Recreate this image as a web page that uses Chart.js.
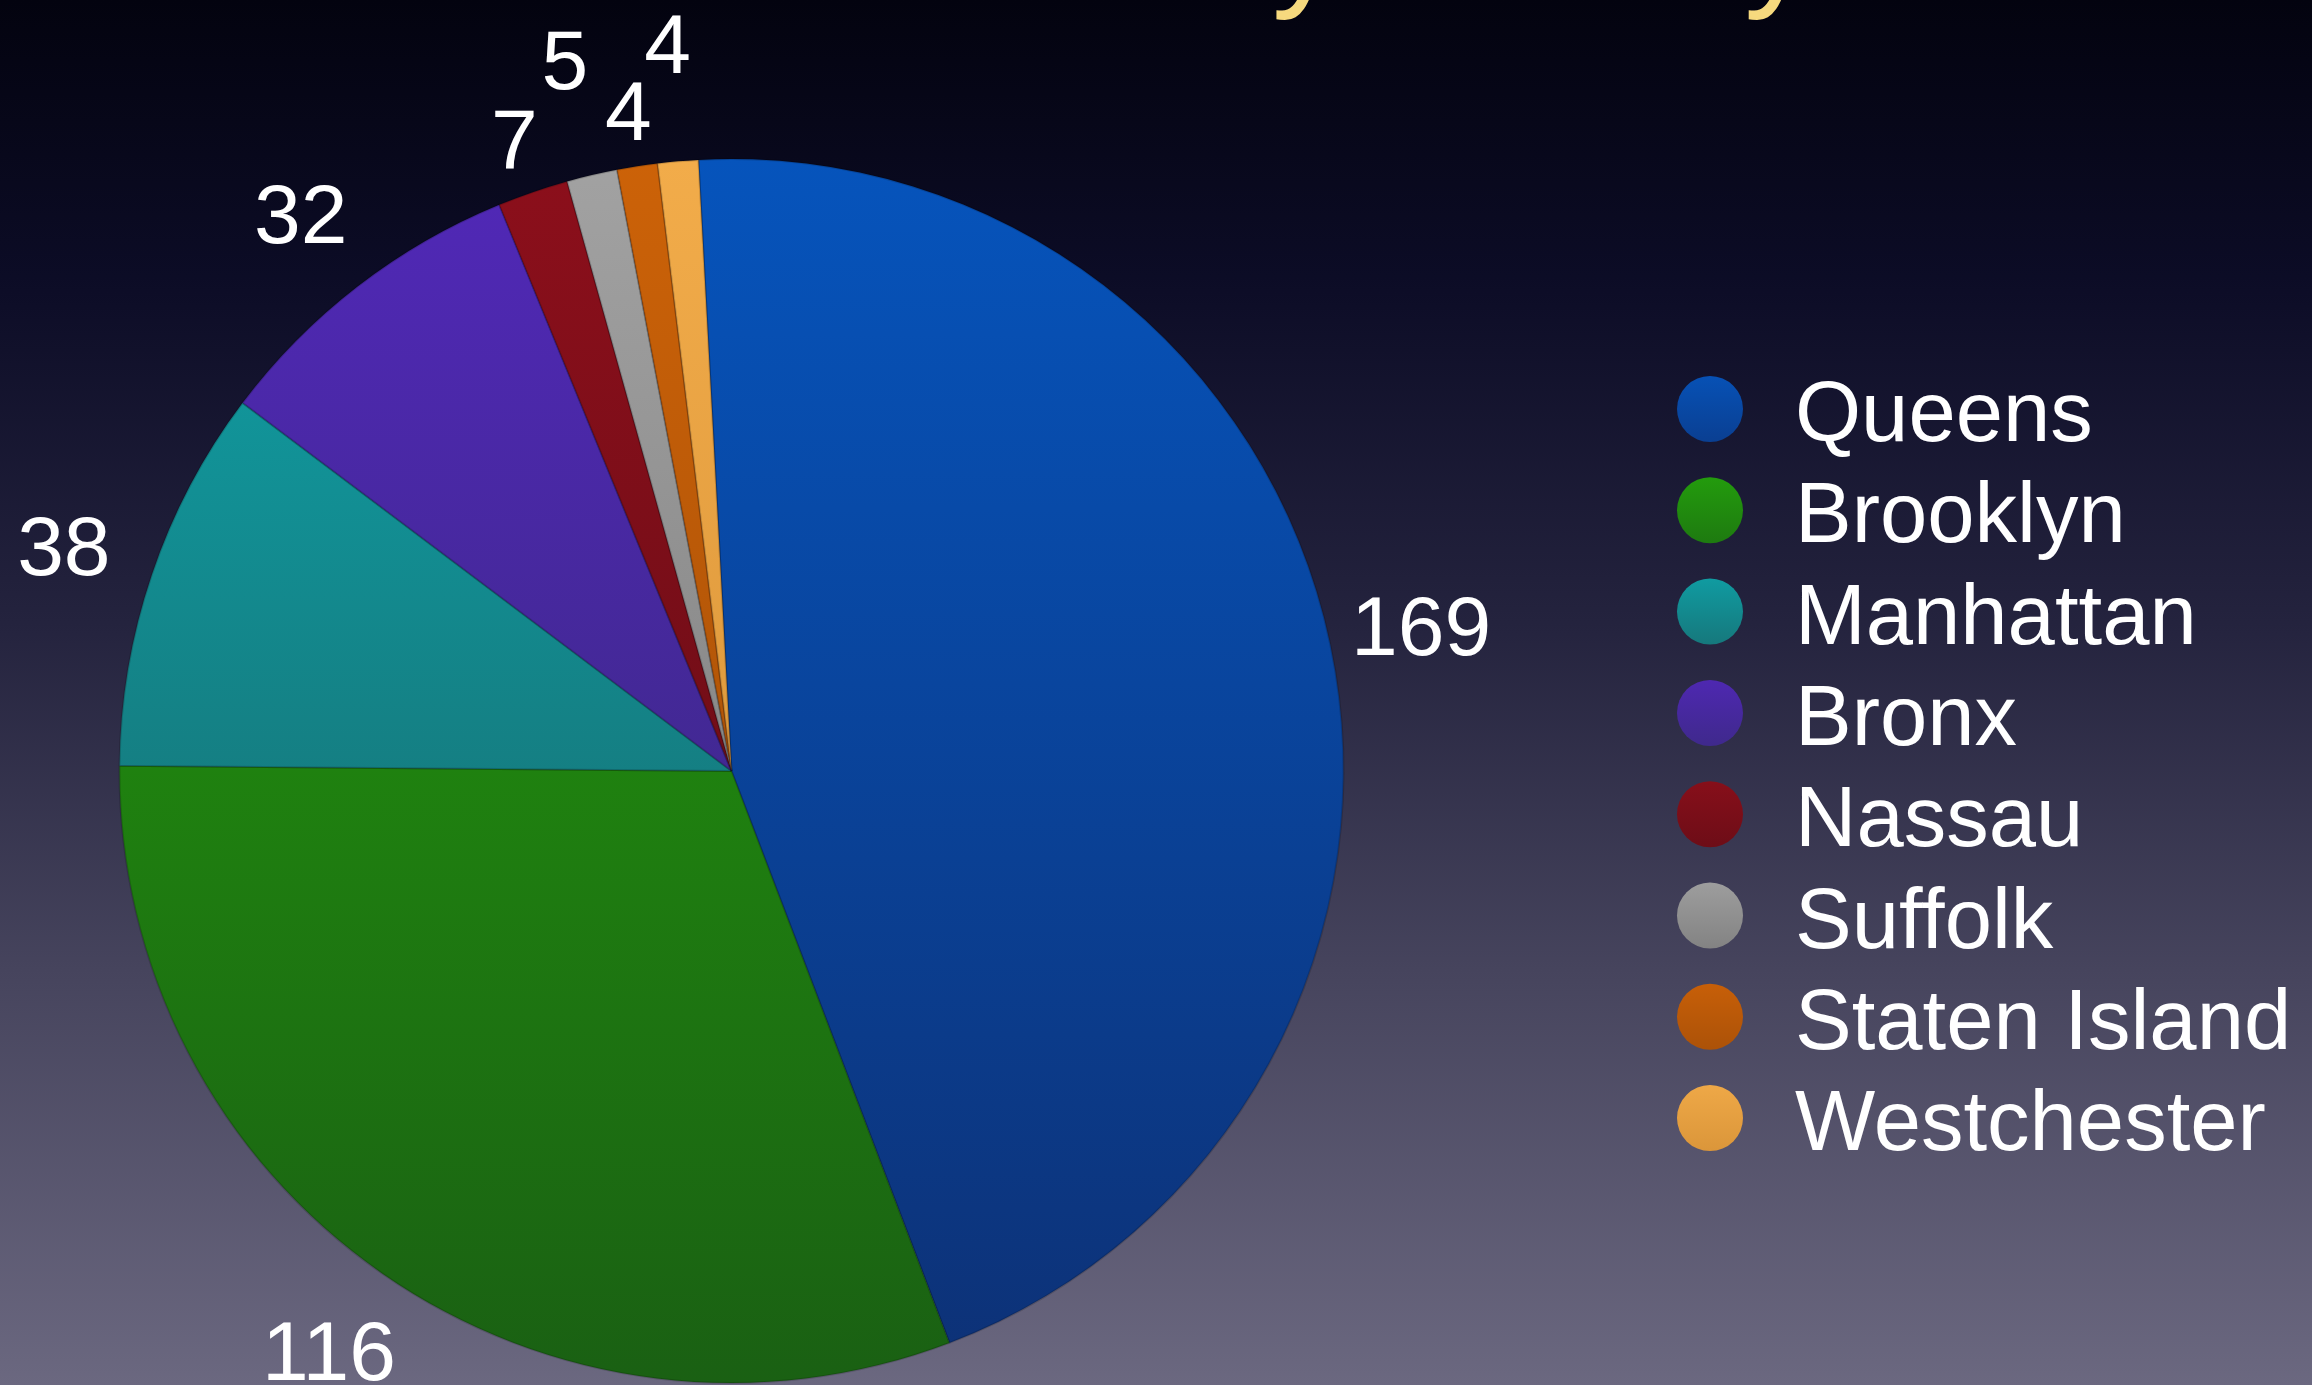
<!DOCTYPE html>
<html>
<head>
<meta charset="utf-8">
<title>Cases by County</title>
<script src="https://cdn.jsdelivr.net/npm/chart.js@4.4.1/dist/chart.umd.min.js"></script>
<style>
    html, body { margin: 0; padding: 0; background: #05051a; overflow: hidden; }
    canvas { display: block; }
</style>
</head>
<body>
<canvas id="chart" width="2312" height="1385"></canvas>
<script>
// Data
const counties = ['Queens', 'Brooklyn', 'Manhattan', 'Bronx', 'Nassau', 'Suffolk', 'Staten Island', 'Westchester'];
const cases = [169, 116, 38, 32, 7, 5, 4, 4];
const chartTitle = 'Cases by County';

// Slice colours, light at the top of the pie and darker at the bottom
const colorsTop = ['#0654bc', '#24a20c', '#0fa2a8', '#5128b8', '#8c0f1b', '#a2a2a2', '#cc6208', '#f2ac4a'];
const colorsBottom = ['#0d3176', '#1a6013', '#1a5c5e', '#33296e', '#580c14', '#6e6e6e', '#964808', '#cc8830'];

const FONT = '"Liberation Sans", Arial, Helvetica, sans-serif';

// Helpers
function mix(a, b, t) {
    const pa = [1, 3, 5].map(i => parseInt(a.substr(i, 2), 16));
    const pb = [1, 3, 5].map(i => parseInt(b.substr(i, 2), 16));
    const c = pa.map((v, i) => Math.round(v + (pb[i] - v) * t));
    return 'rgb(' + c.join(',') + ')';
}

function sliceColor(context) {
    const i = context.dataIndex;
    const area = context.chart.chartArea;
    if (!area) return colorsTop[i];
    const g = context.chart.ctx.createLinearGradient(0, area.top, 0, area.bottom);
    g.addColorStop(0, colorsTop[i]);
    g.addColorStop(1, colorsBottom[i]);
    return g;
}

// Plugins
const backgroundPlugin = {
    id: 'background',
    beforeDraw(chart) {
        const ctx = chart.ctx;
        const g = ctx.createLinearGradient(0, 0, 0, chart.height);
        g.addColorStop(0, '#03030f');
        g.addColorStop(0.2, '#0c0c26');
        g.addColorStop(0.45, '#24233e');
        g.addColorStop(0.7, '#46445d');
        g.addColorStop(1, '#6b6880');
        ctx.save();
        ctx.fillStyle = g;
        ctx.fillRect(0, 0, chart.width, chart.height);
        ctx.restore();
    }
};

// The slide title sits above the picture; only its descenders show
const titlePlugin = {
    id: 'slideTitle',
    afterDraw(chart) {
        const ctx = chart.ctx;
        ctx.save();
        ctx.font = '137px ' + FONT;
        ctx.fillStyle = '#f6d97e';
        ctx.textBaseline = 'alphabetic';
        const prefix = ctx.measureText('Cases b').width;
        ctx.fillText(chartTitle, 1272 - prefix, -9);
        ctx.restore();
    }
};

const valueLabelsPlugin = {
    id: 'valueLabels',
    afterDatasetsDraw(chart) {
        const ctx = chart.ctx;
        const meta = chart.getDatasetMeta(0);
        const size = 84;
        let small = 0;
        ctx.save();
        ctx.font = size + 'px ' + FONT;
        ctx.fillStyle = '#ffffff';
        ctx.textAlign = 'center';
        ctx.textBaseline = 'alphabetic';
        meta.data.forEach((arc, i) => {
            const span = arc.endAngle - arc.startAngle;
            const mid = (arc.startAngle + arc.endAngle) / 2;
            let dist = arc.outerRadius + 93;
            if (span < 0.2) {
                // thin slices: stagger labels in and out
                dist = arc.outerRadius + (small % 2 === 0 ? 57 : 119);
                small++;
            }
            const x = arc.x + Math.cos(mid) * dist;
            const y = arc.y + Math.sin(mid) * dist;
            ctx.fillText(String(cases[i]), x, y + size * 0.36);
        });
        ctx.restore();
    }
};

const legendPlugin = {
    id: 'sideLegend',
    afterDraw(chart) {
        const ctx = chart.ctx;
        const dotX = 1710, firstY = 409, step = 101.3, r = 33;
        ctx.save();
        ctx.font = '85px ' + FONT;
        ctx.textBaseline = 'alphabetic';
        ctx.textAlign = 'left';
        counties.forEach((name, i) => {
            const y = firstY + i * step;
            const g = ctx.createLinearGradient(0, y - r, 0, y + r);
            g.addColorStop(0, mix(colorsTop[i], colorsBottom[i], 0.1));
            g.addColorStop(1, mix(colorsTop[i], colorsBottom[i], 0.6));
            ctx.fillStyle = g;
            ctx.beginPath();
            ctx.arc(dotX, y, r, 0, Math.PI * 2);
            ctx.fill();
            ctx.fillStyle = '#ffffff';
            ctx.fillText(name, 1795, y + 32);
        });
        ctx.restore();
    }
};

// Chart
const ctx = document.getElementById('chart');

new Chart(ctx, {
    type: 'pie',
    data: {
        labels: counties,
        datasets: [{
            data: cases,
            backgroundColor: sliceColor,
            borderColor: 'rgba(0, 0, 0, 0.16)',
            borderWidth: 2
        }]
    },
    options: {
        responsive: false,
        devicePixelRatio: 1,
        animation: false,
        rotation: -3.1,
        layout: {
            padding: { top: 158, bottom: 1, left: 118, right: 967 }
        },
        plugins: {
            legend: { display: false },
            title: { display: false },
            tooltip: { enabled: false }
        }
    },
    plugins: [backgroundPlugin, valueLabelsPlugin, legendPlugin, titlePlugin]
});
</script>
</body>
</html>
